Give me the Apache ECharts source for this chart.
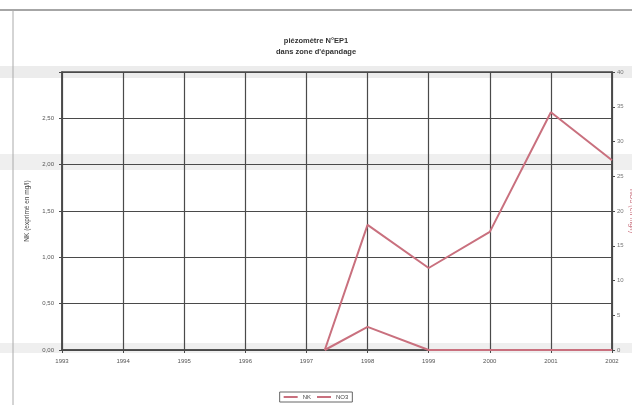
<!DOCTYPE html>
<html>
<head>
<meta charset="utf-8">
<script src="https://cdn.jsdelivr.net/npm/echarts@6/dist/echarts.min.js"></script>
<style>
  html, body { margin: 0; padding: 0; background: #fff; }
  #chart { width: 632px; height: 405px; }
</style>
</head>
<body>
<div id="chart"></div>
<script>
// Sampling dates (decimal years) and measured concentrations
const years = [1997.3, 1998, 1999, 2000, 2001, 2002];
const nkValues = [0, 0.25, 0, 0, 0, 0];          // left axis, mg/l
const no3Values = [0, 18, 11.8, 17, 34.2, 27.3]; // right axis, mg/l

const titleLines = ['piézomètre N°EP1', "dans zone d'épandage"];
const seriesNames = ['NK', 'NO3'];
const leftAxisName = 'NK (exprimé en mg/l)';
const rightAxisName = 'NO3 (en mg/l)';

const lineColor = '#c9707e';
const gridColor = '#4a4a4a';
const textColor = '#555';

const chart = echarts.init(document.getElementById('chart'), null, { renderer: 'canvas' });

chart.setOption({
  animation: false,
  backgroundColor: '#fff',
  title: {
    text: titleLines.join('\n'),
    left: 'center',
    top: 30,
    textStyle: { fontSize: 7.5, fontWeight: 'bold', color: '#333', lineHeight: 11, fontFamily: 'Liberation Sans' }
  },
  graphic: [
    // page frame lines
    { type: 'line', shape: { x1: 0, y1: 10, x2: 632, y2: 10 }, style: { stroke: '#888', lineWidth: 1.5 }, silent: true },
    { type: 'line', shape: { x1: 13, y1: 10, x2: 13, y2: 405 }, style: { stroke: '#aaa', lineWidth: 1 }, silent: true },
    // scanner shading bands
    { type: 'rect', shape: { x: 0, y: 66, width: 632, height: 12 }, style: { fill: 'rgba(150,150,150,0.18)' }, silent: true, z: -1 },
    { type: 'rect', shape: { x: 0, y: 154, width: 632, height: 16 }, style: { fill: 'rgba(150,150,150,0.15)' }, silent: true, z: -1 },
    { type: 'rect', shape: { x: 0, y: 343, width: 632, height: 10 }, style: { fill: 'rgba(150,150,150,0.15)' }, silent: true, z: -1 }
  ],
  legend: {
    data: seriesNames,
    bottom: 3,
    left: 'center',
    itemWidth: 14,
    itemHeight: 2,
    itemGap: 6,
    padding: [2, 4],
    borderColor: '#666',
    borderWidth: 1,
    icon: 'rect',
    textStyle: { fontSize: 6, color: '#444', fontFamily: 'Liberation Sans' }
  },
  grid: {
    left: 62, right: 20, top: 72, bottom: 55,
    outerBoundsMode: 'none', containLabel: false,
    show: true, borderColor: gridColor, borderWidth: 1.5
  },
  xAxis: {
    type: 'value',
    min: 1993, max: 2002, interval: 1,
    axisLine: { show: true, lineStyle: { color: gridColor, width: 1.5 } },
    axisTick: { show: true, length: 3, lineStyle: { color: gridColor } },
    axisLabel: { fontSize: 6, color: textColor, margin: 8, formatter: v => String(v), fontFamily: 'Liberation Sans' },
    splitLine: { show: true, lineStyle: { color: gridColor, width: 1.2 } }
  },
  yAxis: [
    {
      type: 'value', min: 0, max: 3, interval: 0.5,
      name: leftAxisName, nameLocation: 'middle', nameGap: 31, nameRotate: 90,
      nameMoveOverlap: false,
      nameTextStyle: { fontSize: 6.5, color: '#444', fontFamily: 'Liberation Sans' },
      axisLine: { show: true, lineStyle: { color: gridColor, width: 1.5 } },
      axisTick: { show: true, length: 3, lineStyle: { color: gridColor } },
      axisLabel: {
        fontSize: 6, color: textColor, margin: 8, fontFamily: 'Liberation Sans',
        formatter: v => (v === 3 ? '' : v.toFixed(2).replace('.', ','))
      },
      splitLine: { show: true, lineStyle: { color: gridColor, width: 1.2 } }
    },
    {
      type: 'value', min: 0, max: 40, interval: 5,
      name: rightAxisName, nameLocation: 'middle', nameGap: 16, nameRotate: -90,
      nameMoveOverlap: false,
      nameTextStyle: { fontSize: 7, color: lineColor, fontFamily: 'Liberation Sans' },
      position: 'right',
      axisLine: { show: true, lineStyle: { color: gridColor, width: 1.5 } },
      axisTick: { show: true, length: 3, lineStyle: { color: gridColor } },
      axisLabel: { fontSize: 6, color: '#777', margin: 5, fontFamily: 'Liberation Sans' },
      splitLine: { show: false }
    }
  ],
  series: [
    {
      name: seriesNames[0], type: 'line', yAxisIndex: 0,
      data: years.map((y, i) => [y, nkValues[i]]),
      symbol: 'none', lineStyle: { color: lineColor, width: 2 }, itemStyle: { color: lineColor }
    },
    {
      name: seriesNames[1], type: 'line', yAxisIndex: 1,
      data: years.map((y, i) => [y, no3Values[i]]),
      symbol: 'none', lineStyle: { color: lineColor, width: 2 }, itemStyle: { color: lineColor }
    }
  ]
});
</script>
</body>
</html>
